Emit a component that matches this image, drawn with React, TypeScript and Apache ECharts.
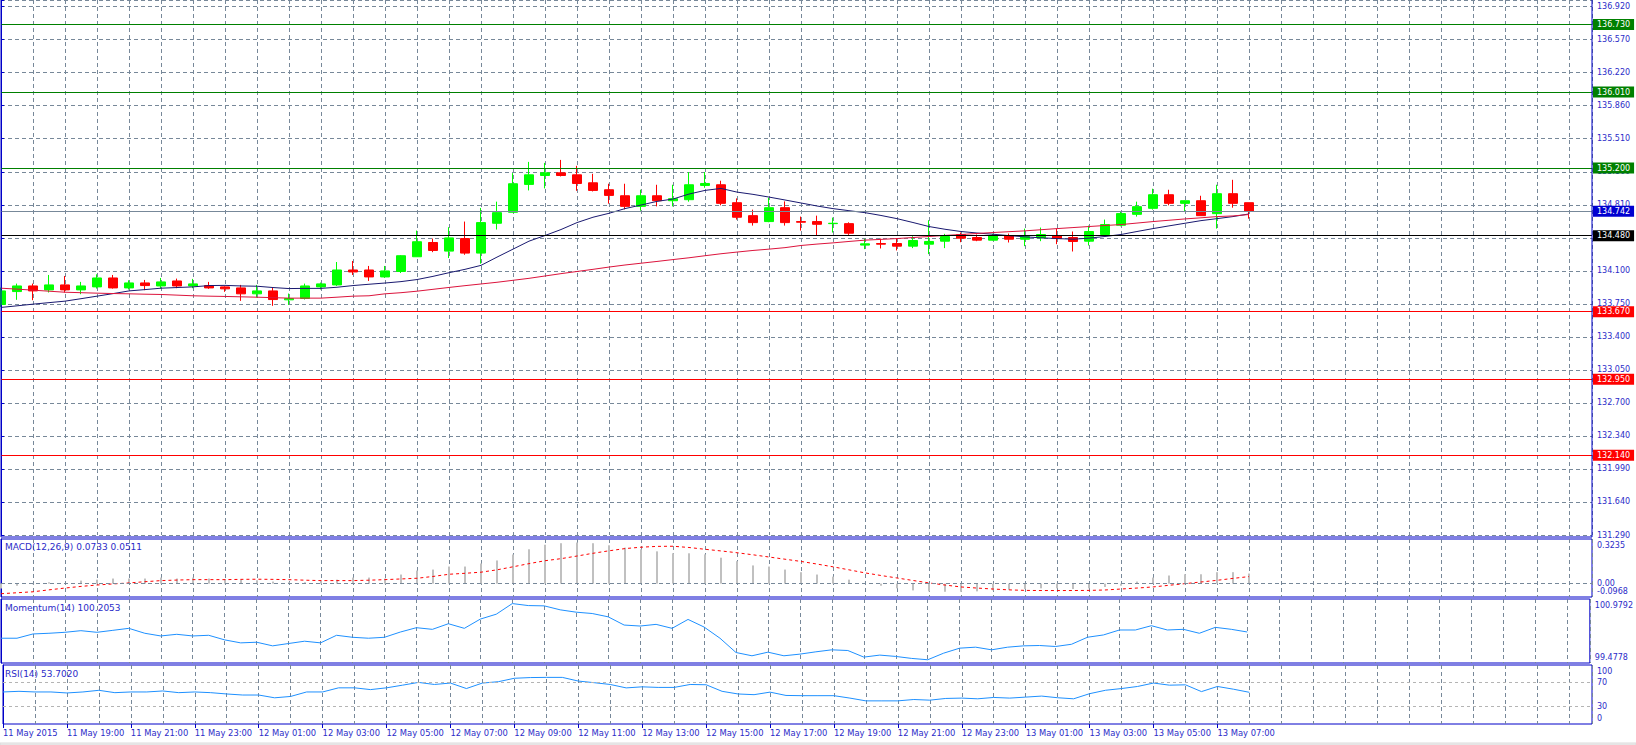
import React, { useEffect, useRef } from "react";
import * as echarts from "echarts";

// ---------- data ----------
const timeLabels = [
  "11 May 2015", "11 May 19:00", "11 May 21:00", "11 May 23:00", "12 May 01:00",
  "12 May 03:00", "12 May 05:00", "12 May 07:00", "12 May 09:00", "12 May 11:00",
  "12 May 13:00", "12 May 15:00", "12 May 17:00", "12 May 19:00", "12 May 21:00",
  "12 May 23:00", "13 May 01:00", "13 May 03:00", "13 May 05:00", "13 May 07:00",
];

const priceTickLabels = [
  "131.290", "131.640", "131.990", "132.340", "132.700", "133.050", "133.400", "133.750",
  "134.100", "134.450", "134.810", "135.160", "135.510", "135.860", "136.220", "136.570", "136.920",
];

// [open, close, low, high]
const candles: [number, number, number, number][] = [
  [133.746, 133.891, 133.720, 133.927],
  [133.884, 133.944, 133.796, 133.969],
  [133.944, 133.891, 133.792, 133.969],
  [133.902, 133.955, 133.874, 134.061],
  [133.955, 133.902, 133.874, 134.050],
  [133.902, 133.944, 133.856, 133.987],
  [133.934, 134.029, 133.916, 134.068],
  [134.029, 133.923, 133.916, 134.061],
  [133.923, 133.976, 133.906, 134.004],
  [133.976, 133.948, 133.899, 134.008],
  [133.944, 133.987, 133.916, 134.029],
  [133.997, 133.944, 133.920, 134.022],
  [133.944, 133.966, 133.920, 134.019],
  [133.948, 133.923, 133.913, 133.987],
  [133.934, 133.913, 133.881, 133.941],
  [133.923, 133.860, 133.785, 133.955],
  [133.860, 133.891, 133.821, 133.955],
  [133.891, 133.799, 133.732, 133.923],
  [133.796, 133.810, 133.743, 133.863],
  [133.810, 133.944, 133.799, 133.969],
  [133.934, 133.966, 133.906, 133.980],
  [133.955, 134.114, 133.944, 134.199],
  [134.114, 134.093, 134.061, 134.210],
  [134.114, 134.040, 133.997, 134.157],
  [134.040, 134.104, 134.029, 134.157],
  [134.098, 134.266, 134.082, 134.273],
  [134.255, 134.415, 134.255, 134.534],
  [134.407, 134.322, 134.304, 134.449],
  [134.315, 134.456, 134.241, 134.570],
  [134.449, 134.294, 134.276, 134.630],
  [134.294, 134.619, 134.181, 134.775],
  [134.612, 134.725, 134.545, 134.842],
  [134.729, 135.033, 134.729, 135.146],
  [135.026, 135.128, 134.962, 135.266],
  [135.121, 135.149, 134.983, 135.255],
  [135.149, 135.121, 135.111, 135.287],
  [135.128, 135.036, 134.958, 135.224],
  [135.043, 134.962, 134.951, 135.139],
  [134.969, 134.909, 134.821, 135.033],
  [134.905, 134.792, 134.760, 135.033],
  [134.792, 134.905, 134.746, 134.969],
  [134.905, 134.852, 134.792, 135.022],
  [134.852, 134.874, 134.792, 135.022],
  [134.863, 135.022, 134.842, 135.156],
  [135.015, 135.036, 134.990, 135.156],
  [135.022, 134.824, 134.803, 135.065],
  [134.831, 134.676, 134.651, 134.877],
  [134.693, 134.619, 134.587, 134.757],
  [134.630, 134.778, 134.623, 134.884],
  [134.778, 134.619, 134.587, 134.845],
  [134.630, 134.623, 134.534, 134.683],
  [134.630, 134.601, 134.481, 134.693],
  [134.608, 134.612, 134.513, 134.672],
  [134.608, 134.506, 134.488, 134.622],
  [134.379, 134.393, 134.336, 134.446],
  [134.396, 134.389, 134.343, 134.449],
  [134.396, 134.368, 134.322, 134.453],
  [134.368, 134.428, 134.347, 134.474],
  [134.389, 134.418, 134.283, 134.644],
  [134.421, 134.471, 134.347, 134.499],
  [134.492, 134.453, 134.410, 134.513],
  [134.460, 134.432, 134.421, 134.492],
  [134.432, 134.481, 134.428, 134.499],
  [134.478, 134.442, 134.407, 134.502],
  [134.442, 134.471, 134.368, 134.555],
  [134.456, 134.492, 134.421, 134.566],
  [134.478, 134.449, 134.389, 134.555],
  [134.460, 134.418, 134.311, 134.524],
  [134.421, 134.524, 134.375, 134.587],
  [134.492, 134.598, 134.481, 134.651],
  [134.591, 134.715, 134.580, 134.736],
  [134.707, 134.789, 134.683, 134.842],
  [134.771, 134.916, 134.757, 134.980],
  [134.916, 134.824, 134.803, 134.969],
  [134.824, 134.852, 134.743, 134.855],
  [134.852, 134.693, 134.693, 134.905],
  [134.714, 134.927, 134.555, 135.022],
  [134.927, 134.824, 134.778, 135.075],
  [134.831, 134.742, 134.661, 134.831],
];

const fastMA = [
  133.715, 133.732, 133.750, 133.766, 133.782, 133.808, 133.835, 133.862, 133.891, 133.905,
  133.920, 133.927, 133.934, 133.948, 133.950, 133.944, 133.941, 133.927, 133.916, 133.918,
  133.918, 133.930, 133.948, 133.962, 133.975, 133.990, 134.012, 134.046, 134.085, 134.121,
  134.163, 134.251, 134.336, 134.421, 134.481, 134.545, 134.619, 134.676, 134.718, 134.768,
  134.806, 134.845, 134.870, 134.923, 134.962, 134.983, 134.944, 134.920, 134.891, 134.860,
  134.828, 134.796, 134.768, 134.746, 134.725, 134.695, 134.661, 134.620, 134.577, 134.548,
  134.524, 134.508, 134.495, 134.480, 134.467, 134.457, 134.449, 134.442, 134.453, 134.471,
  134.492, 134.524, 134.555, 134.584, 134.612, 134.640, 134.661, 134.683, 134.711,
];

const slowMA = [
  133.920, 133.910, 133.899, 133.888, 133.877, 133.872, 133.867, 133.863, 133.860, 133.856,
  133.853, 133.846, 133.839, 133.835, 133.832, 133.828, 133.824, 133.819, 133.814, 133.814,
  133.814, 133.824, 133.835, 133.839, 133.860, 133.872, 133.888, 133.908, 133.928, 133.947,
  133.965, 133.983, 134.004, 134.025, 134.050, 134.075, 134.098, 134.121, 134.145, 134.167,
  134.186, 134.205, 134.225, 134.244, 134.266, 134.287, 134.305, 134.322, 134.336, 134.352,
  134.375, 134.390, 134.403, 134.418, 134.432, 134.440, 134.449, 134.460, 134.471, 134.482,
  134.492, 134.503, 134.513, 134.522, 134.531, 134.543, 134.555, 134.566, 134.577, 134.588,
  134.598, 134.614, 134.630, 134.644, 134.658, 134.670, 134.683, 134.690, 134.705,
];

const macdHist = [
  -0.035, -0.015, -0.005, 0.010, 0.005, 0.022, 0.029, 0.037, 0.037, 0.037,
  0.044, 0.037, 0.044, 0.037, 0.032, 0.029, 0.024, 0.015, 0.010, 0.010,
  0.022, 0.029, 0.044, 0.044, 0.037, 0.066, 0.095, 0.102, 0.124, 0.124,
  0.146, 0.168, 0.212, 0.249, 0.282, 0.293, 0.298, 0.293, 0.278, 0.261,
  0.249, 0.234, 0.220, 0.220, 0.212, 0.188, 0.163, 0.132, 0.124, 0.102,
  0.083, 0.066, 0.051, 0.029, 0.005, -0.015, -0.034, -0.049, -0.056, -0.059,
  -0.059, -0.056, -0.049, -0.044, -0.039, -0.034, -0.034, -0.039, -0.034, -0.024,
  -0.015, 0.015, 0.044, 0.059, 0.068, 0.068, 0.083, 0.083, 0.0733,
];

const macdSignal = [
  -0.073, -0.066, -0.059, -0.045, -0.032, -0.020, -0.010, -0.002, 0.005, 0.014,
  0.022, 0.026, 0.029, 0.029, 0.029, 0.031, 0.032, 0.031, 0.029, 0.025,
  0.022, 0.022, 0.022, 0.025, 0.029, 0.034, 0.039, 0.052, 0.068, 0.075,
  0.083, 0.100, 0.122, 0.145, 0.166, 0.181, 0.200, 0.220, 0.238, 0.254,
  0.264, 0.270, 0.271, 0.262, 0.249, 0.237, 0.224, 0.209, 0.193, 0.177,
  0.161, 0.142, 0.122, 0.100, 0.078, 0.059, 0.041, 0.023, 0.005, -0.010,
  -0.024, -0.032, -0.039, -0.045, -0.049, -0.050, -0.050, -0.050, -0.049, -0.046,
  -0.039, -0.032, -0.024, -0.012, 0.000, 0.012, 0.024, 0.038, 0.0511,
];

const momentum = [
  100.059, 100.059, 100.159, 100.175, 100.198, 100.236, 100.198, 100.244, 100.291, 100.175,
  100.112, 100.151, 100.112, 100.128, 100.020, 99.950, 99.965, 99.880, 99.935, 99.989,
  99.950, 100.128, 100.081, 100.059, 100.081, 100.205, 100.306, 100.267, 100.399, 100.291,
  100.508, 100.623, 100.872, 100.825, 100.818, 100.725, 100.670, 100.639, 100.561, 100.368,
  100.345, 100.384, 100.291, 100.500, 100.322, 100.059, 99.724, 99.647, 99.732, 99.647,
  99.686, 99.740, 99.787, 99.771, 99.616, 99.663, 99.632, 99.585, 99.554, 99.709,
  99.826, 99.849, 99.787, 99.849, 99.880, 99.888, 99.865, 99.917, 100.082, 100.136,
  100.252, 100.252, 100.353, 100.252, 100.268, 100.175, 100.314, 100.268, 100.2053,
];

const rsi = [
  54.3, 55.4, 54.3, 54.3, 52.6, 54.3, 57.1, 53.1, 54.3, 54.3,
  56.0, 53.1, 54.3, 53.1, 50.9, 49.1, 49.1, 44.4, 46.7, 54.3,
  54.3, 61.3, 61.3, 58.3, 61.3, 65.8, 70.5, 67.0, 69.4, 60.1,
  69.4, 71.7, 77.5, 78.7, 79.0, 79.0, 72.8, 70.0, 67.0, 61.2,
  63.0, 62.0, 62.0, 67.0, 66.5, 55.4, 50.9, 49.7, 54.0, 48.4,
  48.0, 48.0, 48.0, 43.9, 39.2, 39.2, 39.2, 41.5, 40.4, 43.3,
  43.9, 42.7, 45.0, 43.9, 45.6, 47.3, 44.5, 42.7, 51.4, 57.2,
  60.1, 63.6, 69.4, 65.8, 66.4, 54.9, 63.6, 59.0, 53.702,
];

const resistanceLevels = [136.73, 136.01, 135.2];
const supportLevels = [133.67, 132.95, 132.14];
const pivotLevel = 134.48;
const bidLevel = 134.742;

const macdRange = { top: 0.3235, bottom: -0.0968 };
const momentumRange = { top: 100.9792, bottom: 99.4778 };
const rsiLevels = [70, 30];
const rsiLabelValues = [0, 30, 70, 100];

const titles = {
  macd: "MACD(12,26,9) 0.0733 0.0511",
  momentum: "Momentum(14) 100.2053",
  rsi: "RSI(14) 53.7020",
};

// ---------- styles / layout ----------
const FONT = "DejaVu Sans";
const FS = 8;
const TITLE_FS = 9;
const XLABEL_FS = 8.4;
const BLUE = "#0000C8";
const TXT = "#2B2BC8";
const GRIDC = "#778899";
const DASH = [4, 3];
const X_MAX = 99.44;
const P_MIN = 131.29;
const P_STEP = 0.351875;
const P_MAX = 136.991;
const LEFT = 1;
const RIGHT = 44;

const near = (a: number, b: number, eps = 1e-6) => Math.abs(a - b) < eps;

export default function App() {
  const ref = useRef<HTMLDivElement>(null);

  useEffect(() => {
    const chart = echarts.init(ref.current!, null, { renderer: "svg" });

    const gridX = (gi: number) => ({
      type: "value",
      gridIndex: gi,
      min: 0,
      max: X_MAX,
      interval: 2,
      axisLine: { show: false },
      axisTick: { show: false },
      axisLabel: { show: false },
      splitLine: { show: true, lineStyle: { color: GRIDC, type: DASH, width: 1 } },
    });

    const labelBase = { fontSize: FS, fontFamily: FONT, color: TXT, margin: 5, showMinLabel: true, showMaxLabel: true };
    const titleStyle = { fontSize: TITLE_FS, fontFamily: FONT, color: TXT, fontWeight: "normal" };
    const labeledTicks = timeLabels.map((_, k) => k * 4);

    const levelItem = (v: number, lineColor: string, bg: string) => ({
      yAxis: v,
      lineStyle: { color: lineColor, type: "solid", width: 1 },
      label: {
        show: true,
        position: "end",
        formatter: v.toFixed(3),
        backgroundColor: bg,
        color: "#ffffff",
        fontSize: FS,
        fontFamily: FONT,
        padding: [2, 4, 1, 4],
        distance: 1,
      },
    });

    const option: any = {
      animation: false,
      backgroundColor: "#ffffff",
      title: [
        { text: titles.macd, left: 5, top: 542, padding: 0, textStyle: titleStyle },
        { text: titles.momentum, left: 5, top: 603, padding: 0, textStyle: titleStyle },
        { text: titles.rsi, left: 5, top: 669, padding: 0, textStyle: titleStyle },
      ],
      grid: [
        { left: LEFT, right: RIGHT, top: -1, height: 536, show: false },
        { left: LEFT, right: RIGHT, top: 539, height: 58, show: true, borderColor: BLUE, borderWidth: 1, backgroundColor: "transparent" },
        { left: LEFT, right: RIGHT, top: 599, height: 64, show: true, borderColor: BLUE, borderWidth: 1, backgroundColor: "transparent" },
        { left: LEFT, right: RIGHT, top: 665, height: 59, show: true, borderColor: BLUE, borderWidth: 1, backgroundColor: "transparent" },
      ],
      xAxis: [
        gridX(0),
        gridX(1),
        gridX(2),
        gridX(3),
        {
          type: "value",
          gridIndex: 3,
          position: "bottom",
          min: 0,
          max: X_MAX,
          interval: 4,
          axisLine: { show: false },
          axisTick: { show: true, length: 4, lineStyle: { color: BLUE }, customValues: labeledTicks },
          splitLine: { show: false },
          axisLabel: {
            fontSize: XLABEL_FS,
            fontFamily: FONT,
            color: TXT,
            margin: 5,
            align: "left",
            showMinLabel: true,
            customValues: labeledTicks,
            formatter: (v: number) => {
              const k = Math.round(v / 4);
              return near(v, k * 4, 1e-6) && k >= 0 && k < timeLabels.length ? timeLabels[k] : "";
            },
          },
        },
      ],
      yAxis: [
        {
          type: "value",
          gridIndex: 0,
          position: "right",
          min: P_MIN,
          max: P_MAX,
          interval: P_STEP,
          axisLine: { show: true, lineStyle: { color: BLUE } },
          axisTick: { show: true, length: 3, lineStyle: { color: BLUE } },
          splitLine: { show: true, lineStyle: { color: GRIDC, type: DASH, width: 1 } },
          axisLabel: {
            ...labelBase,
            formatter: (v: number) => {
              const k = Math.round((v - P_MIN) / P_STEP);
              return k >= 0 && k < priceTickLabels.length && Math.abs(v - (P_MIN + k * P_STEP)) < 1e-4
                ? priceTickLabels[k]
                : "";
            },
          },
        },
        {
          // MACD: zero and top labels
          type: "value",
          gridIndex: 1,
          position: "right",
          min: macdRange.bottom,
          max: macdRange.top,
          interval: -macdRange.bottom,
          axisLine: { show: true, lineStyle: { color: BLUE } },
          axisTick: { show: false },
          splitLine: { show: false },
          axisLabel: {
            ...labelBase,
            showMinLabel: false,
            lineHeight: 12,
            formatter: (v: number) => {
              if (near(v, 0, 1e-6)) return "0.00";
              if (near(v, macdRange.top, 1e-4)) return "\n" + macdRange.top.toFixed(4);
              return "";
            },
          },
        },
        {
          type: "value",
          gridIndex: 2,
          position: "right",
          min: momentumRange.bottom,
          max: momentumRange.top,
          interval: momentumRange.top - momentumRange.bottom,
          axisLine: { show: true, lineStyle: { color: BLUE } },
          axisTick: { show: false },
          splitLine: { show: false },
          axisLabel: {
            ...labelBase,
            lineHeight: 12,
            formatter: (v: number) => {
              if (near(v, momentumRange.top, 1e-3)) return "\n" + momentumRange.top.toFixed(4);
              if (near(v, momentumRange.bottom, 1e-3)) return momentumRange.bottom.toFixed(4) + "\n ";
              return "";
            },
          },
        },
        {
          type: "value",
          gridIndex: 3,
          position: "right",
          min: 0,
          max: 100,
          interval: 10,
          axisLine: { show: true, lineStyle: { color: BLUE } },
          axisTick: { show: false },
          splitLine: { show: false },
          axisLabel: {
            ...labelBase,
            lineHeight: 12,
            formatter: (v: number) => {
              const r = Math.round(v);
              if (!rsiLabelValues.includes(r)) return "";
              if (r === 100) return "\n100";
              if (r === 0) return "0\n ";
              return String(r);
            },
          },
        },
        {
          // MACD: bottom label only
          type: "value",
          gridIndex: 1,
          position: "right",
          min: macdRange.bottom,
          max: macdRange.top,
          interval: macdRange.top - macdRange.bottom,
          axisLine: { show: false },
          axisTick: { show: false },
          splitLine: { show: false },
          axisLabel: {
            ...labelBase,
            showMaxLabel: false,
            lineHeight: 12,
            formatter: (v: number) =>
              near(v, macdRange.bottom, 1e-4) ? macdRange.bottom.toFixed(4) + "\n " : "",
          },
        },
      ],
      graphic: [
        {
          type: "rect",
          shape: { x: 1, y: -1, width: 1591, height: 538 },
          style: { fill: "none", stroke: BLUE, lineWidth: 1 },
          silent: true,
          z: 10,
        },
        {
          type: "rect",
          shape: { x: 0, y: 743, width: 1636, height: 2 },
          style: { fill: "#F0F0F0", stroke: "#DADADA", lineWidth: 1 },
          silent: true,
        },
      ],
      series: [
        {
          type: "candlestick",
          xAxisIndex: 0,
          yAxisIndex: 0,
          dimensions: ["idx", "open", "close", "lowest", "highest"],
          encode: { x: "idx", y: ["open", "close", "lowest", "highest"] },
          data: candles.map((c, i) => [i, c[0], c[1], c[2], c[3]]),
          barWidth: 10,
          itemStyle: {
            color: "#00FF00",
            color0: "#FF0000",
            borderColor: "#00FF00",
            borderColor0: "#FF0000",
            borderColorDoji: "#00FF00",
            borderWidth: 1,
          },
          markLine: {
            silent: true,
            symbol: ["none", "none"],
            animation: false,
            data: [
              ...resistanceLevels.map((v) => levelItem(v, "#008000", "#008000")),
              levelItem(bidLevel, "#778899", "#0000D0"),
              levelItem(pivotLevel, "#000000", "#000000"),
              ...supportLevels.map((v) => levelItem(v, "#FF0000", "#FF0000")),
            ],
          },
          z: 3,
        },
        {
          type: "line",
          xAxisIndex: 0,
          yAxisIndex: 0,
          data: fastMA.map((v, i) => [i, v]),
          showSymbol: false,
          symbol: "none",
          lineStyle: { color: "#191970", width: 1 },
          z: 4,
        },
        {
          type: "line",
          xAxisIndex: 0,
          yAxisIndex: 0,
          data: slowMA.map((v, i) => [i, v]),
          showSymbol: false,
          symbol: "none",
          lineStyle: { color: "#DC143C", width: 1 },
          z: 4,
        },
        {
          type: "bar",
          xAxisIndex: 1,
          yAxisIndex: 1,
          data: macdHist.map((v, i) => [i, v]),
          barWidth: 2,
          itemStyle: { color: "#C0C0C0" },
          markLine: {
            silent: true,
            symbol: ["none", "none"],
            label: { show: false },
            lineStyle: { color: GRIDC, type: DASH, width: 1 },
            data: [{ yAxis: 0 }],
          },
        },
        {
          type: "line",
          xAxisIndex: 1,
          yAxisIndex: 1,
          data: macdSignal.map((v, i) => [i, v]),
          showSymbol: false,
          symbol: "none",
          lineStyle: { color: "#FF0000", width: 1, type: [3, 3] },
        },
        {
          type: "line",
          xAxisIndex: 2,
          yAxisIndex: 2,
          data: momentum.map((v, i) => [i, v]),
          showSymbol: false,
          symbol: "none",
          lineStyle: { color: "#1E90FF", width: 1 },
        },
        {
          type: "line",
          xAxisIndex: 3,
          yAxisIndex: 3,
          data: rsi.map((v, i) => [i, v]),
          showSymbol: false,
          symbol: "none",
          lineStyle: { color: "#1E90FF", width: 1 },
          markLine: {
            silent: true,
            symbol: ["none", "none"],
            label: { show: false },
            lineStyle: { color: "#B4B4B4", type: [3, 3], width: 1 },
            data: rsiLevels.map((v) => ({ yAxis: v })),
          },
        },
      ],
    };

    chart.setOption(option);
    return () => chart.dispose();
  }, []);

  return (
    <div
      ref={ref}
      style={{ position: "fixed", left: 0, top: 0, width: 1636, height: 745, background: "#ffffff" }}
    />
  );
}
